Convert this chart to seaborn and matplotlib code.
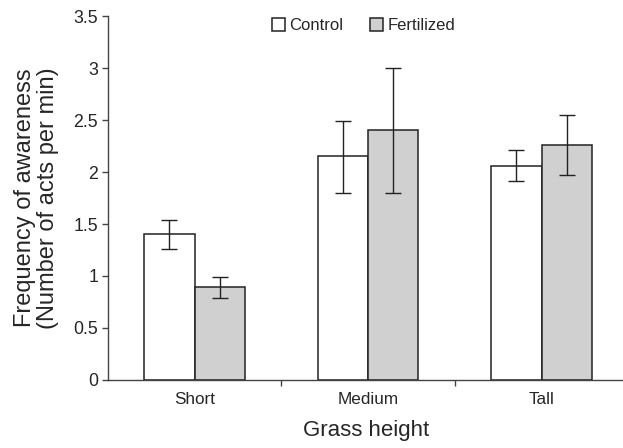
import pandas as pd
import numpy as np
import seaborn as sns
import matplotlib.pyplot as plt
from matplotlib.ticker import FuncFormatter

heights = ['Short', 'Medium', 'Tall']
treatments = ['Control', 'Fertilized']
control_mean = [1.40, 2.15, 2.06]
control_low = [1.26, 1.80, 1.91]
control_high = [1.54, 2.49, 2.21]
fert_mean = [0.89, 2.40, 2.26]
fert_low = [0.79, 1.80, 1.97]
fert_high = [0.99, 3.00, 2.55]

df = pd.DataFrame({
    'height': heights * 2,
    'treatment': ['Control'] * 3 + ['Fertilized'] * 3,
    'mean': control_mean + fert_mean,
    'low': control_low + fert_low,
    'high': control_high + fert_high,
})

sns.set_style('ticks')
plt.rcParams['font.family'] = ['Liberation Sans', 'DejaVu Sans']

fig = plt.figure(figsize=(6.23, 4.48), dpi=100)
ax = fig.add_axes([0.173, 0.152, 0.83, 0.812])

sns.barplot(data=df, x='height', y='mean', hue='treatment', order=heights,
            hue_order=treatments, palette=['white', '#d0d0d0'],
            edgecolor='#222222', linewidth=1.1, width=0.58, errorbar=None,
            ax=ax, legend=True)

# asymmetric error bars, placed on the drawn bars
for cont, tr in zip(ax.containers, treatments):
    sub = df[df['treatment'] == tr].set_index('height').loc[heights]
    xs = [p.get_x() + p.get_width() / 2 for p in cont.patches]
    yerr = np.array([sub['mean'] - sub['low'], sub['high'] - sub['mean']])
    ax.errorbar(xs, sub['mean'], yerr=yerr, fmt='none', ecolor='#222222',
                elinewidth=1.0, capsize=5.5, capthick=1.0, zorder=5)

ax.set_ylim(0, 3.5)
ax.set_xlim(-0.5, 2.48)
ax.set_yticks(np.arange(0, 3.51, 0.5))
ax.yaxis.set_major_formatter(FuncFormatter(lambda v, p: '%g' % v))
ax.set_xticks([0.5, 1.5], minor=False)
ax.set_xticks([0, 1, 2], minor=True)
ax.set_xticklabels(['', ''])
ax.set_xticklabels(heights, minor=True)
ax.tick_params(axis='x', which='minor', length=0, labelsize=12.3, pad=9)
ax.tick_params(axis='x', which='major', length=4, width=1, color='#444444')
ax.tick_params(axis='y', length=4, width=1, color='#444444', labelsize=12.8,
               pad=3)
for s in ['top', 'right']:
    ax.spines[s].set_visible(False)
for s in ['left', 'bottom']:
    ax.spines[s].set_color('#444444')
    ax.spines[s].set_linewidth(1.0)

ax.set_xlabel('Grass height', fontsize=16, labelpad=9)
ax.set_ylabel('Frequency of awareness\n(Number of acts per min)', fontsize=17,
              labelpad=10, linespacing=1.1)

ax.legend(loc='upper center', bbox_to_anchor=(0.495, 1.035), ncol=2, frameon=False,
          fontsize=12, handlelength=0.75, handleheight=0.75, handletextpad=0.3,
          columnspacing=1.6)

fig.savefig('out.png', dpi=100)
